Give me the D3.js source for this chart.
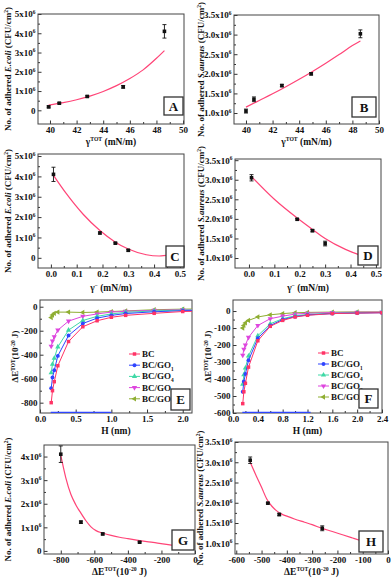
<!DOCTYPE html>
<html>
<head>
<meta charset="utf-8">
<script src="https://cdn.jsdelivr.net/npm/d3@7"></script>
<style>
  html, body { margin: 0; padding: 0; background: #fff; }
  svg { display: block; }
  text { font-family: 'Liberation Serif', 'DejaVu Serif', serif; font-weight: bold; fill: #111; }
</style>
</head>
<body>
<svg id="fig" width="392" height="578"></svg>
<script>
// ── Data ─────────────────────────────────────────────────

// A / B : adhesion vs gamma TOT
const gammaTotA   = [39.9, 40.7, 42.8, 45.5, 48.6];
const ecoliA      = [0.18e6, 0.37e6, 0.72e6, 1.22e6, 4.1e6];
const ecoliErrA   = [0.05e6, 0.04e6, 0.04e6, 0.07e6, 0.35e6];
const fitGammaA   = [39.9, 41, 42, 43, 44, 45, 46, 47, 48, 48.6];
const fitEcoliA   = [0.27e6, 0.40e6, 0.55e6, 0.74e6, 0.98e6, 1.28e6, 1.65e6, 2.1e6, 2.7e6, 3.1e6];

const gammaTotB   = [40.0, 40.6, 42.7, 44.9, 48.6];
const sauB        = [1.05e6, 1.35e6, 1.70e6, 2.0e6, 3.02e6];
const sauErrB     = [0.05e6, 0.06e6, 0.03e6, 0.03e6, 0.10e6];
const fitGammaB   = [40.0, 41, 42, 43, 44, 45, 46, 47, 48, 48.6];
const fitSauB     = [1.15e6, 1.32e6, 1.49e6, 1.67e6, 1.86e6, 2.06e6, 2.27e6, 2.49e6, 2.72e6, 2.84e6];

// C / D : adhesion vs gamma minus
const gammaMinus  = [0.01, 0.19, 0.25, 0.30, 0.46];
const ecoliC      = [4.1e6, 1.22e6, 0.72e6, 0.37e6, 0.18e6];
const ecoliErrC   = [0.35e6, 0.05e6, 0.04e6, 0.04e6, 0.04e6];
const fitGammaC   = [0.01, 0.06, 0.125, 0.19, 0.25, 0.30, 0.37, 0.42, 0.46];
const fitEcoliC   = [4.05e6, 3.15e6, 2.14e6, 1.34e6, 0.77e6, 0.43e6, 0.15e6, 0.09e6, 0.13e6];

const sauD        = [3.05e6, 1.99e6, 1.70e6, 1.37e6, 1.05e6];
const sauErrD     = [0.08e6, 0.02e6, 0.03e6, 0.06e6, 0.04e6];
const fitGammaD   = [0.01, 0.10, 0.19, 0.25, 0.30, 0.38, 0.46];
const fitSauD     = [3.08e6, 2.5e6, 2.02e6, 1.73e6, 1.5e6, 1.22e6, 1.02e6];

// E / F : total interaction energy vs distance H
const seriesKeys  = ['BC', 'GO1', 'GO4', 'GO8', 'GO16'];
const distH       = [0.157, 0.175, 0.2, 0.25, 0.4, 0.6, 0.8, 1.0, 1.2, 1.6, 2.0, 2.4];
const energyE = {
  BC:   [-800, -700, -625, -492, -290, -167, -117, -88, -72, -55, -40, -35],
  GO1:  [-680, -590, -530, -410, -240, -140, -95, -72, -57, -42, -33, -30],
  GO4:  [-550, -480, -430, -335, -195, -115, -80, -60, -47, -35, -28, -25],
  GO8:  [-330, -285, -250, -195, -120, -80, -60, -45, -38, -30, -25, -22],
  GO16: [-90, -70, -55, -45, -45, -48, -45, -40, -35, -25, -20, -18]
};
const energyF = {
  BC:   [-545, -475, -425, -330, -175, -90, -55, -35, -25, -15, -12, -10],
  GO1:  [-475, -415, -370, -290, -160, -85, -50, -33, -23, -15, -12, -10],
  GO4:  [-430, -375, -335, -265, -145, -75, -45, -28, -20, -13, -10, -8],
  GO8:  [-260, -225, -200, -155, -85, -45, -30, -18, -13, -9, -7, -6],
  GO16: [-100, -85, -70, -55, -35, -22, -15, -10, -8, -6, -5, -5]
};
const offscaleE = [0.15, 1.0];   // blue trace lying on the bottom axis
const offscaleF = [0.15, 1.25];

// G / H : adhesion vs total interaction energy
const energyG     = [-800, -680, -550, -330, -90];
const ecoliG      = [4.1e6, 1.22e6, 0.72e6, 0.37e6, 0.18e6];
const ecoliErrG   = [0.35e6, 0.05e6, 0.04e6, 0.03e6, 0.03e6];
const fitEnergyG  = [-800, -770, -740, -710, -680, -650, -620, -590, -550, -500, -450, -400, -330, -250, -170, -100];
const fitEcoliG   = [4.05e6, 3.1e6, 2.4e6, 1.95e6, 1.6e6, 1.28e6, 1.02e6, 0.86e6, 0.76e6, 0.66e6, 0.58e6, 0.52e6, 0.44e6, 0.36e6, 0.28e6, 0.2e6];

const energyH     = [-545, -475, -430, -260, -100];
const sauH        = [3.05e6, 1.99e6, 1.71e6, 1.37e6, 1.05e6];
const sauErrH     = [0.08e6, 0.02e6, 0.03e6, 0.06e6, 0.05e6];
const fitEnergyH  = [-545, -520, -500, -480, -460, -440, -420, -400, -370, -330, -300, -262, -220, -180, -140, -100];
const fitSauH     = [3.0e6, 2.65e6, 2.38e6, 2.1e6, 1.92e6, 1.8e6, 1.72e6, 1.67e6, 1.6e6, 1.52e6, 1.46e6, 1.37e6, 1.29e6, 1.21e6, 1.13e6, 1.05e6];

// tick values
const tickGammaTot   = [40, 42, 44, 46, 48, 50];
const tickGammaMinus = [0, 0.1, 0.2, 0.3, 0.4, 0.5];
const tickEcoli      = [0, 1e6, 2e6, 3e6, 4e6, 5e6];
const tickEcoliG     = [0, 1e6, 2e6, 3e6, 4e6];
const tickSau        = [1e6, 1.5e6, 2e6, 2.5e6, 3e6, 3.5e6];
const tickHE         = [0, 0.5, 1.0, 1.5, 2.0];
const tickHF         = [0, 0.4, 0.8, 1.2, 1.6, 2.0, 2.4];
const tickEnergyE    = [0, -200, -400, -600, -800];
const tickEnergyF    = [0, -100, -200, -300, -400, -500, -600];
const tickEnergyG    = [-800, -600, -400, -200, 0];
const tickEnergyH    = [-600, -500, -400, -300, -200, -100, 0];

// ── Styles ───────────────────────────────────────────────
const FS = 9;
const FIT_COLOR = '#ff4477';
const seriesStyle = {
  BC:   { color: '#ff3366', sym: d3.symbolSquare,   rot: 0,   label: ['BC'] },
  GO1:  { color: '#2f45ff', sym: d3.symbolCircle,   rot: 0,   label: ['BC/GO', ['1', 'sub']] },
  GO4:  { color: '#3fd9a6', sym: d3.symbolTriangle, rot: 0,   label: ['BC/GO', ['4', 'sub']] },
  GO8:  { color: '#de45de', sym: d3.symbolTriangle, rot: 180, label: ['BC/GO', ['8', 'sub']] },
  GO16: { color: '#8fae32', sym: d3.symbolTriangle, rot: -90, label: ['BC/GO', ['16', 'sub']] }
};

const svg = d3.select('#fig');

// text with italic / super / subscript pieces
function rich(sel, parts, fs) {
  let shift = 0;
  parts.forEach(p => {
    const [t, k] = Array.isArray(p) ? p : [p, ''];
    const ts = sel.append('tspan').text(t);
    let target = 0;
    if (k === 'sup') { target = -0.38 * fs; ts.attr('font-size', fs * 0.6); }
    else if (k === 'sub') { target = 0.3 * fs; ts.attr('font-size', fs * 0.6); }
    else if (k === 'i') ts.attr('font-style', 'italic');
    if (target !== shift) ts.attr('dy', target - shift);
    shift = target;
  });
}

const sci    = d => d === 0 ? ['0'] : [`${d / 1e6}x10`, ['6', 'sup']];
const sciFix = d => [`${(d / 1e6).toFixed(1)}x10`, ['6', 'sup']];
const plain  = d => [String(d)];
const fix1   = d => [d.toFixed(1)];

const labEcoli = ['No. of adhered ', ['E.coli', 'i'], ' (CFU/cm', ['2', 'sup'], ')'];
const labSau   = ['No. of adhered ', ['S.aureus', 'i'], ' (CFU/cm', ['2', 'sup'], ')'];
const labE     = ['ΔE', ['TOT', 'sup'], '(10', ['-20', 'sup'], ' J)'];
const labGTot  = ['γ', ['TOT', 'sup'], ' (mN/m)'];
const labGMin  = ['γ', ['−', 'sup'], ' (mN/m)'];
const labH     = ['H (nm)'];

function minorOf(t) {
  const out = [];
  for (let i = 0; i < t.length - 1; i++) out.push((t[i] + t[i + 1]) / 2);
  return out;
}

function drawPanel(c) {
  const [x0, y0, x1, y1] = c.box;
  const x = d3.scaleLinear().domain(c.xd).range([x0, x1]);
  const y = d3.scaleLinear().domain(c.yd).range([y1, y0]);
  const g = svg.append('g');

  svg.append('clipPath').attr('id', 'clip' + c.id)
    .append('rect').attr('x', x0).attr('y', y0).attr('width', x1 - x0).attr('height', y1 - y0);

  // axes (inward ticks)
  const xa = g.append('g').attr('transform', `translate(0,${y1})`)
    .call(d3.axisBottom(x).tickValues(c.xt).tickSize(-3.5).tickSizeOuter(0).tickPadding(3));
  g.append('g').attr('transform', `translate(0,${y1})`)
    .call(d3.axisBottom(x).tickValues(minorOf(c.xt)).tickSize(-2).tickSizeOuter(0).tickFormat(''));
  const ya = g.append('g').attr('transform', `translate(${x0},0)`)
    .call(d3.axisLeft(y).tickValues(c.yt).tickSize(-3.5).tickSizeOuter(0).tickPadding(2.5));
  g.append('g').attr('transform', `translate(${x0},0)`)
    .call(d3.axisLeft(y).tickValues(minorOf(c.yt)).tickSize(-2).tickSizeOuter(0).tickFormat(''));
  g.selectAll('.domain').remove();
  g.selectAll('.tick line').attr('stroke', '#333');
  g.selectAll('g').attr('font-size', FS).attr('font-family', null);
  xa.selectAll('.tick text').each(function (d) {
    const t = d3.select(this).text(null); rich(t, c.xf(d), FS);
  });
  ya.selectAll('.tick text').each(function (d) {
    const t = d3.select(this).text(null); rich(t, c.yf(d), FS);
  });

  // frame
  g.append('rect').attr('x', x0).attr('y', y0).attr('width', x1 - x0).attr('height', y1 - y0)
    .attr('fill', 'none').attr('stroke', '#444').attr('stroke-width', 1);

  // axis titles
  rich(g.append('text').attr('x', (x0 + x1) / 2).attr('y', c.xlabY)
    .attr('text-anchor', 'middle').attr('font-size', FS + 0.5), c.xlab, FS + 0.5);
  rich(g.append('text').attr('transform', `translate(${c.ylabX},${(y0 + y1) / 2}) rotate(-90)`)
    .attr('text-anchor', 'middle').attr('dy', '0.35em').attr('font-size', FS), c.ylab, FS);

  const plot = g.append('g').attr('clip-path', `url(#clip${c.id})`);

  // fitted curve
  if (c.fit) {
    plot.append('path').datum(d3.zip(c.fit[0], c.fit[1]))
      .attr('d', d3.line().x(d => x(d[0])).y(d => y(d[1])).curve(d3.curveMonotoneX))
      .attr('fill', 'none').attr('stroke', FIT_COLOR).attr('stroke-width', 1.2);
  }

  // measured points with error bars
  if (c.pts) {
    const pts = d3.zip(c.pts[0], c.pts[1], c.pts[2]);
    const eb = g.append('g').attr('stroke', '#111').attr('stroke-width', 0.9);
    pts.forEach(d => {
      const cx = x(d[0]);
      eb.append('line').attr('x1', cx).attr('x2', cx).attr('y1', y(d[1] - d[2])).attr('y2', y(d[1] + d[2]));
      eb.append('line').attr('x1', cx - 2).attr('x2', cx + 2).attr('y1', y(d[1] - d[2])).attr('y2', y(d[1] - d[2]));
      eb.append('line').attr('x1', cx - 2).attr('x2', cx + 2).attr('y1', y(d[1] + d[2])).attr('y2', y(d[1] + d[2]));
    });
    g.selectAll(null).data(pts).join('rect')
      .attr('x', d => x(d[0]) - 1.8).attr('y', d => y(d[1]) - 1.8)
      .attr('width', 3.6).attr('height', 3.6).attr('fill', '#111');
  }

  // energy curves
  if (c.series) {
    if (c.offscale) {
      plot.append('line').attr('x1', x(c.offscale[0])).attr('x2', x(c.offscale[1]))
        .attr('y1', y1 - 0.5).attr('y2', y1 - 0.5)
        .attr('stroke', seriesStyle.GO1.color).attr('stroke-width', 1.4);
    }
    seriesKeys.slice().reverse().forEach(k => {
      const st = seriesStyle[k];
      const data = d3.zip(distH, c.series[k]);
      plot.append('path').datum(data)
        .attr('d', d3.line().x(d => x(d[0])).y(d => y(d[1])))
        .attr('fill', 'none').attr('stroke', st.color).attr('stroke-width', 1);
      plot.selectAll(null).data(data).join('path')
        .attr('d', d3.symbol(st.sym, 12))
        .attr('transform', d => `translate(${x(d[0])},${y(d[1])}) rotate(${st.rot})`)
        .attr('fill', st.color);
    });
    // legend
    const [lx, ly, dyRow] = c.legend;
    seriesKeys.forEach((k, i) => {
      const st = seriesStyle[k];
      const ry = ly + i * dyRow;
      g.append('line').attr('x1', lx).attr('x2', lx + 11).attr('y1', ry).attr('y2', ry)
        .attr('stroke', st.color).attr('stroke-width', 1);
      g.append('path').attr('d', d3.symbol(st.sym, 12))
        .attr('transform', `translate(${lx + 5.5},${ry}) rotate(${st.rot})`).attr('fill', st.color);
      rich(g.append('text').attr('x', lx + 13).attr('y', ry + 3).attr('font-size', FS), st.label, FS);
    });
  }

  // panel letter box
  const [bx0, by0, bx1, by1] = c.letter;
  g.append('rect').attr('x', bx0).attr('y', by0).attr('width', bx1 - bx0).attr('height', by1 - by0)
    .attr('fill', '#fff').attr('stroke', '#333').attr('stroke-width', 1.3);
  g.append('text').attr('x', (bx0 + bx1) / 2).attr('y', (by0 + by1) / 2 + 4.5)
    .attr('text-anchor', 'middle').attr('font-size', 13).text(c.id);
}

const panels = [
  { id: 'A', box: [38, 14, 184, 124], xd: [39.1, 50.07], yd: [-0.71e6, 5.0e6],
    xt: tickGammaTot, yt: tickEcoli, xf: plain, yf: sci,
    xlab: labGTot, xlabY: 145, ylab: labEcoli, ylabX: 8,
    pts: [gammaTotA, ecoliA, ecoliErrA], fit: [fitGammaA, fitEcoliA], letter: [164, 97, 183, 115] },
  { id: 'B', box: [234, 15, 379, 124], xd: [39.1, 50], yd: [0.72e6, 3.5e6],
    xt: tickGammaTot, yt: tickSau, xf: plain, yf: sciFix,
    xlab: labGTot, xlabY: 145, ylab: labSau, ylabX: 201,
    pts: [gammaTotB, sauB, sauErrB], fit: [fitGammaB, fitSauB], letter: [352, 97, 376, 117] },
  { id: 'C', box: [38, 154, 184, 268], xd: [-0.05, 0.516], yd: [-0.5e6, 5.1e6],
    xt: tickGammaMinus, yt: tickEcoli, xf: fix1, yf: sci,
    xlab: labGMin, xlabY: 291, ylab: labEcoli, ylabX: 8,
    pts: [gammaMinus, ecoliC, ecoliErrC], fit: [fitGammaC, fitEcoliC], letter: [166, 246, 184, 267] },
  { id: 'D', box: [235, 159, 381, 268], xd: [-0.055, 0.52], yd: [0.745e6, 3.53e6],
    xt: tickGammaMinus, yt: tickSau, xf: fix1, yf: sciFix,
    xlab: labGMin, xlabY: 291, ylab: labSau, ylabX: 201,
    pts: [gammaMinus, sauD, sauErrD], fit: [fitGammaD, fitSauD], letter: [358, 246, 378, 265] },
  { id: 'E', box: [40, 300, 192, 413], xd: [0, 2.13], yd: [-886, 56],
    xt: tickHE, yt: tickEnergyE, xf: fix1, yf: plain,
    xlab: labH, xlabY: 434, ylab: labE, ylabX: 15,
    series: energyE, offscale: offscaleE, legend: [129, 354, 11.2], letter: [171, 389, 190, 410] },
  { id: 'F', box: [233, 300, 382, 413], xd: [0, 2.4], yd: [-600, 65],
    xt: tickHF, yt: tickEnergyF, xf: fix1, yf: plain,
    xlab: labH, xlabY: 434, ylab: labE, ylabX: 208,
    series: energyF, offscale: offscaleF, legend: [318, 353, 11], letter: [359, 389, 378, 408] },
  { id: 'G', box: [44, 445, 195, 554], xd: [-900, 0], yd: [-0.13e6, 4.49e6],
    xt: tickEnergyG, yt: tickEcoliG, xf: plain, yf: sci,
    xlab: labE, xlabY: 575, ylab: labEcoli, ylabX: 8,
    pts: [energyG, ecoliG, ecoliErrG], fit: [fitEnergyG, fitEcoliG], letter: [172, 530, 194, 550] },
  { id: 'H', box: [235, 442, 388, 554], xd: [-605, 0], yd: [0.735e6, 3.5e6],
    xt: tickEnergyH, yt: tickSau, xf: plain, yf: sciFix,
    xlab: labE, xlabY: 575, ylab: labSau, ylabX: 200,
    pts: [energyH, sauH, sauErrH], fit: [fitEnergyH, fitSauH], letter: [359, 531, 383, 552] }
];

panels.forEach(drawPanel);
</script>
</body>
</html>
